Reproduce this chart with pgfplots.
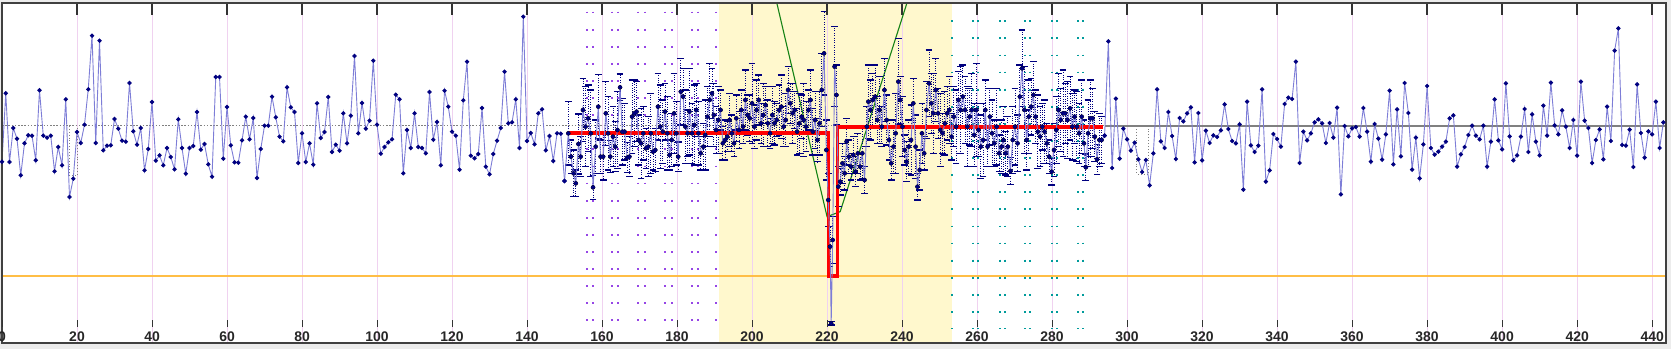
\documentclass[border=0pt]{standalone}
\usepackage{pgfplots}
\pgfplotsset{compat=1.18}
\usepackage{pgfplotstable}
\usepackage{fontspec}
\setmainfont{Liberation Sans}
\definecolor{navyc}{RGB}{0,0,128}
\definecolor{linec}{RGB}{125,125,215}
\definecolor{gridc}{RGB}{240,210,240}
\definecolor{yel}{RGB}{255,248,205}
\definecolor{orangec}{RGB}{255,190,70}
\definecolor{purp}{RGB}{150,70,230}
\definecolor{tealc}{RGB}{0,155,155}
\definecolor{greenc}{RGB}{20,130,20}
\definecolor{bgc}{RGB}{236,236,236}

\pgfplotstableread{
x y
0 -107
1 98
2 -108
3 -6
4 -38
5 -148
6 -52
7 -28
8 -29
9 -103
10 107
11 -29
12 -35
13 -29
14 -136
15 -63
16 -118
17 80
18 -213
19 -158
20 -18
21 -51
22 4
23 110
24 271
25 -51
26 256
27 -73
28 -59
29 -58
30 21
31 -8
32 -44
33 -47
34 129
35 -16
36 -56
37 -6
38 -133
39 -69
40 72
41 -104
42 -88
43 -118
44 -66
45 -93
46 -130
47 20
48 -66
49 -143
50 -66
51 -60
52 42
53 -71
54 -54
55 -115
56 -152
57 147
58 147
59 -98
60 57
61 -58
62 -109
63 -110
64 -43
65 28
66 -40
67 24
68 -156
69 -69
70 1
71 1
72 88
73 26
74 -32
75 -46
76 116
77 56
78 42
79 -111
80 -22
81 -108
82 -52
83 -116
84 68
85 -36
86 -18
87 87
88 -78
89 -56
90 -74
91 38
92 -52
93 31
94 210
95 -22
96 69
97 -8
98 16
99 196
100 4
101 -83
102 -63
103 -49
104 -40
105 94
106 80
107 -142
108 -12
109 -66
110 38
111 -63
112 -66
113 -82
114 102
115 -41
116 12
117 -118
118 106
119 58
120 -17
121 -29
122 -131
123 77
124 193
125 -89
126 -97
127 -84
128 54
129 -122
130 -145
131 -84
132 -44
133 -6
134 163
135 8
136 11
137 80
138 -66
139 328
140 -45
141 -21
142 -55
143 38
144 50
145 -73
146 -30
147 -105
148 -22
149 -23
150 -165
}\leftdata

\pgfplotstableread{
x y e
150 -165 0
151.0 -22 95
151.7 -92 50
152.4 -142 70
153.0 -172 40
153.7 -54 90
154.3 -92 60
154.9 48 95
155.6 -2 120
156.3 23 100
157.0 -22 130
157.6 -184 36
158.3 -62 80
159.0 58 96
159.6 -92 50
160.3 -92 70
161.0 38 96
161.6 -22 110
162.2 -92 48
162.9 -32 90
163.5 -62 75
164.1 -12 115
164.8 116 40
165.4 -17 100
166.0 -17 85
166.7 -95 45
167.3 -92 60
168.0 28 110
168.6 38 100
169.2 43 90
169.8 -42 75
170.4 -52 105
171.0 -22 80
171.7 -67 60
172.3 -62 90
173.0 -22 120
173.6 -77 55
174.2 -72 65
174.9 58 100
175.5 -2 125
176.2 -17 95
176.8 43 85
177.4 -22 110
178.0 -87 45
178.6 -42 80
179.2 38 120
179.8 -22 95
180.3 -92 44
181.0 103 100
181.6 88 85
182.2 -2 110
182.8 -22 70
183.3 43 130
184.0 -22 90
184.6 3 120
185.1 48 80
185.7 -22 95
186.3 -82 50
187.0 -62 70
187.5 -27 105
188.1 28 90
188.7 78 110
189.3 98 75
189.8 33 95
190.4 -12 70
191.0 18 100
191.6 48 60
192.2 -52 50
192.8 -42 60
193.4 -32 45
194.0 18 80
194.6 -22 55
195.2 -52 40
195.8 23 70
196.5 -12 55
197.1 48 60
197.6 -2 50
198.2 78 90
198.8 33 60
199.4 23 70
200.0 68 120
200.6 -2 65
201.2 48 90
201.8 78 75
202.4 8 60
203.0 33 95
203.6 63 55
204.2 8 70
204.8 -22 45
205.4 33 85
206.0 8 65
206.6 18 50
207.2 48 75
207.8 58 95
208.4 -2 60
209.0 18 80
209.6 108 70
210.2 68 60
210.8 38 90
211.4 48 55
212.0 -17 70
212.6 8 90
213.2 28 65
213.8 18 110
214.4 -2 75
215.0 48 60
215.6 78 90
216.2 -17 70
216.8 18 85
217.4 -42 65
218.0 8 95
218.6 108 110
219.2 218 125
219.8 -72 90
220.3 -222 80
220.8 -362 60
221.1 -592 5
221.5 -342 70
222.0 178 120
222.5 93 90
223.0 -182 60
223.5 -167 40
224.1 -112 60
224.7 -142 50
225.2 -47 70
225.8 -92 50
226.4 -122 40
227.0 -87 55
227.6 -137 45
228.2 -82 60
228.8 -122 40
229.4 -82 75
230.0 -162 40
230.6 -2 60
231.0 73 110
231.6 48 90
232.2 78 80
232.8 88 95
233.4 18 70
234.0 48 100
234.6 -2 60
235.3 108 95
235.9 18 75
236.5 -42 60
237.1 -112 50
237.7 -62 80
238.3 -22 120
239.0 133 130
239.5 78 70
240.1 -2 90
240.7 -72 45
241.2 -107 60
241.8 -62 80
242.4 -42 105
243.0 68 75
243.6 -62 95
244.1 -182 40
244.7 -132 60
245.3 -22 90
245.9 -82 50
246.5 48 85
247.2 128 100
247.8 68 90
248.3 38 120
249.0 108 95
249.6 38 75
250.2 -12 110
250.8 -22 60
251.4 8 95
252.0 38 80
252.6 48 100
253.2 -32 70
253.8 28 90
254.4 -2 110
255.0 78 85
255.6 48 130
256.2 88 95
256.8 48 100
257.4 -2 120
258.0 28 85
258.6 48 110
259.2 -27 95
259.8 48 140
260.4 -12 80
261.0 -62 95
261.6 -42 110
262.2 48 90
262.8 -62 60
263.4 28 85
264.0 -22 100
264.6 -52 70
265.2 -2 115
265.9 -82 55
266.5 -62 80
267.0 -42 100
267.6 -82 65
268.2 -62 90
268.9 -135 40
269.5 -42 100
270.1 -2 115
270.8 -52 85
271.4 88 95
272.0 173 115
272.6 48 130
273.2 -42 90
273.8 28 110
274.4 58 85
275.0 93 100
275.6 28 80
276.2 -17 110
276.8 -32 90
277.4 -2 70
278.0 -17 95
278.6 -52 60
279.2 -92 50
279.9 -137 40
280.5 -72 80
281.1 -12 100
281.7 48 110
282.3 18 95
282.9 38 130
283.5 38 90
284.1 18 115
284.8 53 95
285.4 -2 100
286.0 28 80
286.6 -2 105
287.2 -22 90
287.9 28 110
288.5 -52 70
289.0 -124 40
289.6 -22 100
290.2 23 115
290.8 23 90
291.4 -32 75
292.0 -100 45
292.6 -42 80
293.2 -42 70
294 -29 0
}\densedata

\pgfplotstableread{
x y
294 -29
295 254
296 -126
297 82
298 -98
299 -8
300 -40
301 -74
302 -50
303 -100
304 -138
305 -102
306 -178
307 -82
308 110
309 -46
310 -66
311 42
312 -30
313 -99
314 24
315 14
316 38
317 56
318 -109
319 39
320 -103
321 -14
322 -51
323 -28
324 -33
325 -13
326 65
327 -9
328 -45
329 -52
330 5
331 -191
332 73
333 -58
334 -78
335 -59
336 110
337 -167
338 -133
339 -24
340 -39
341 -62
342 66
343 85
344 81
345 193
346 -111
347 -17
348 -43
349 -22
350 11
351 20
352 8
353 -51
354 9
355 -35
356 55
357 -205
358 0
359 -31
360 -7
361 -3
362 -32
363 54
364 -17
365 -107
366 6
367 -38
368 -101
369 -25
370 106
371 -115
372 50
373 -91
374 129
375 39
376 -131
377 -35
378 -157
379 -55
380 120
381 -66
382 -86
383 -77
384 -62
385 -47
386 23
387 32
388 -122
389 -85
390 -63
391 -27
392 1
393 -29
394 -40
395 1
396 -122
397 -47
398 80
399 -43
400 -70
401 128
402 -31
403 -103
404 -88
405 -32
406 51
407 -78
408 35
409 -47
410 -88
411 61
412 -29
413 130
414 2
415 -25
416 47
417 -2
418 -66
419 18
420 -89
421 133
422 16
423 -6
424 -111
425 -42
426 -10
427 -100
428 58
429 -45
430 226
431 293
432 -57
433 -59
434 -11
435 -123
436 125
437 -21
438 -95
439 -16
440 -25
441 73
442 -66
443 11
}\rightdata

\begin{document}
\begin{tikzpicture}
\fill[bgc] (0,0) rectangle (1671bp,349bp);
\fill[white] (2bp,6bp) rectangle (1666bp,346bp);
\begin{axis}[
  at={(2bp,6bp)}, anchor=south west,
  width=1664bp, height=340bp, scale only axis,
  xmin=0, xmax=443.7, ymin=-651, ymax=369,
  axis on top,
  axis line style={draw=black!75, line width=1.5bp},
  xtick={0,20,...,440}, ytick=\empty,
  xtick pos=right, xticklabel pos=left,
  tick align=inside,
  major tick length=12bp,
  xtick style={draw=black!80, line width=1.4bp},
  xticklabel style={anchor=south, yshift=0.5bp, inner sep=1bp, text=black!85, font=\fontsize{14}{14}\selectfont\bfseries},
  /pgf/number format/assume math mode=true,
  unbounded coords=jump,
  clip=true,
]
% yellow band
\addplot[draw=none, fill=yel] coordinates {(191.3,-660)(191.3,380)(253.3,380)(253.3,-660)};
% pink grid
\addplot[gridc, line width=1bp] coordinates {
(20,-660)(20,380)(20,nan)(40,-660)(40,380)(40,nan)(60,-660)(60,380)(60,nan)
(80,-660)(80,380)(80,nan)(100,-660)(100,380)(100,nan)(120,-660)(120,380)(120,nan)
(140,-660)(140,380)(140,nan)(160,-660)(160,380)(160,nan)(180,-660)(180,380)(180,nan)
(200,-660)(200,380)(200,nan)(220,-660)(220,380)(220,nan)(240,-660)(240,380)(240,nan)
(260,-660)(260,380)(260,nan)(280,-660)(280,380)(280,nan)(300,-660)(300,380)(300,nan)
(320,-660)(320,380)(320,nan)(340,-660)(340,380)(340,nan)(360,-660)(360,380)(360,nan)
(380,-660)(380,380)(380,nan)(400,-660)(400,380)(400,nan)(420,-660)(420,380)(420,nan)
(440,-660)(440,380)};
% purple dotted columns
\addplot[purp, line width=2bp, dash pattern=on 1.8bp off 15.3bp] coordinates {
(155.9,343)(155.9,-585)(155.9,nan)(157.5,343)(157.5,-585)(157.5,nan)
(162.6,343)(162.6,-585)(162.6,nan)(164.3,343)(164.3,-585)(164.3,nan)
(169.7,343)(169.7,-585)(169.7,nan)(171.5,343)(171.5,-585)(171.5,nan)
(176.8,343)(176.8,-585)(176.8,nan)(178.6,343)(178.6,-585)(178.6,nan)
(183.9,343)(183.9,-585)(183.9,nan)(185.7,343)(185.7,-585)(185.7,nan)
(190.3,343)(190.3,-585)};
% teal dotted columns
\addplot[tealc, line width=2bp, dash pattern=on 1.8bp off 15.3bp] coordinates {
(253.3,317)(253.3,-610)(253.3,nan)
(259.0,317)(259.0,-610)(259.0,nan)(260.3,317)(260.3,-610)(260.3,nan)
(266.1,317)(266.1,-610)(266.1,nan)(267.5,317)(267.5,-610)(267.5,nan)
(272.8,317)(272.8,-610)(272.8,nan)(274.1,317)(274.1,-610)(274.1,nan)
(279.9,317)(279.9,-610)(279.9,nan)(281.2,317)(281.2,-610)(281.2,nan)
(287.0,317)(287.0,-610)(287.0,nan)(288.3,317)(288.3,-610)};
% orange threshold
\addplot[orangec, line width=2bp] coordinates {(0,-450)(443.7,-450)};
% baseline
\addplot[gray, line width=1bp, dash pattern=on 1.6bp off 1.6bp] coordinates {(0,0)(294,0)};
\addplot[gray, line width=1.2bp] coordinates {(294,0)(443.7,0)};
% grey dotted boxes
\addplot[gray, line width=0.9bp, dotted] coordinates {(17.9,0)(17.9,-147)(20.2,-147)(20.2,0)};
\addplot[gray, line width=0.9bp, dotted] coordinates {(302.6,0)(302.6,-144)(305.7,-144)(305.7,0)};
% green V
\addplot[greenc, line width=1.1bp] coordinates {(206.6,369)(220.0,-272)(223.5,-257)(241.3,369)};
% error bars of dense region
\addplot[only marks, mark=none, restrict x to domain=150.5:293.5,
  error bars/.cd, y dir=both, y explicit, error mark=|,
  error bar style={draw=navyc, dotted, line width=0.7bp},
  error mark options={draw=navyc, solid, line width=1.6bp, mark size=3.4bp}]
  table[x=x, y=y, y error=e] {\densedata};
% red segment line
\addplot[red, line width=3.8bp, line join=miter] coordinates {(150.8,-20)(220.4,-20)(220.4,-450)(222.8,-450)(222.8,-4)(293.7,-4)};
% data line
\addplot[linec, line width=0.9bp, mark=*, mark size=1.7bp, mark options={fill=navyc, draw=navyc}] table[x=x, y=y] {\leftdata};
\addplot[linec, line width=0.9bp, mark=*, mark size=1.7bp, mark options={fill=navyc, draw=navyc}] table[x=x, y=y] {\densedata};
\addplot[linec, line width=0.9bp, mark=*, mark size=1.7bp, mark options={fill=navyc, draw=navyc}] table[x=x, y=y] {\rightdata};
% small bottom tick marks
\addplot[only marks, mark=|, mark size=3.3bp, mark options={draw=black!80, line width=1bp}] coordinates {
(0,-592)(20,-592)(40,-592)(60,-592)(80,-592)(100,-592)(120,-592)(140,-592)(160,-592)(180,-592)(200,-592)(220,-592)
(240,-592)(260,-592)(280,-592)(300,-592)(320,-592)(340,-592)(360,-592)(380,-592)(400,-592)(420,-592)(440,-592)};
\end{axis}
\pgfresetboundingbox
\useasboundingbox (0,0) rectangle (1671bp,349bp);
\end{tikzpicture}
\end{document}
